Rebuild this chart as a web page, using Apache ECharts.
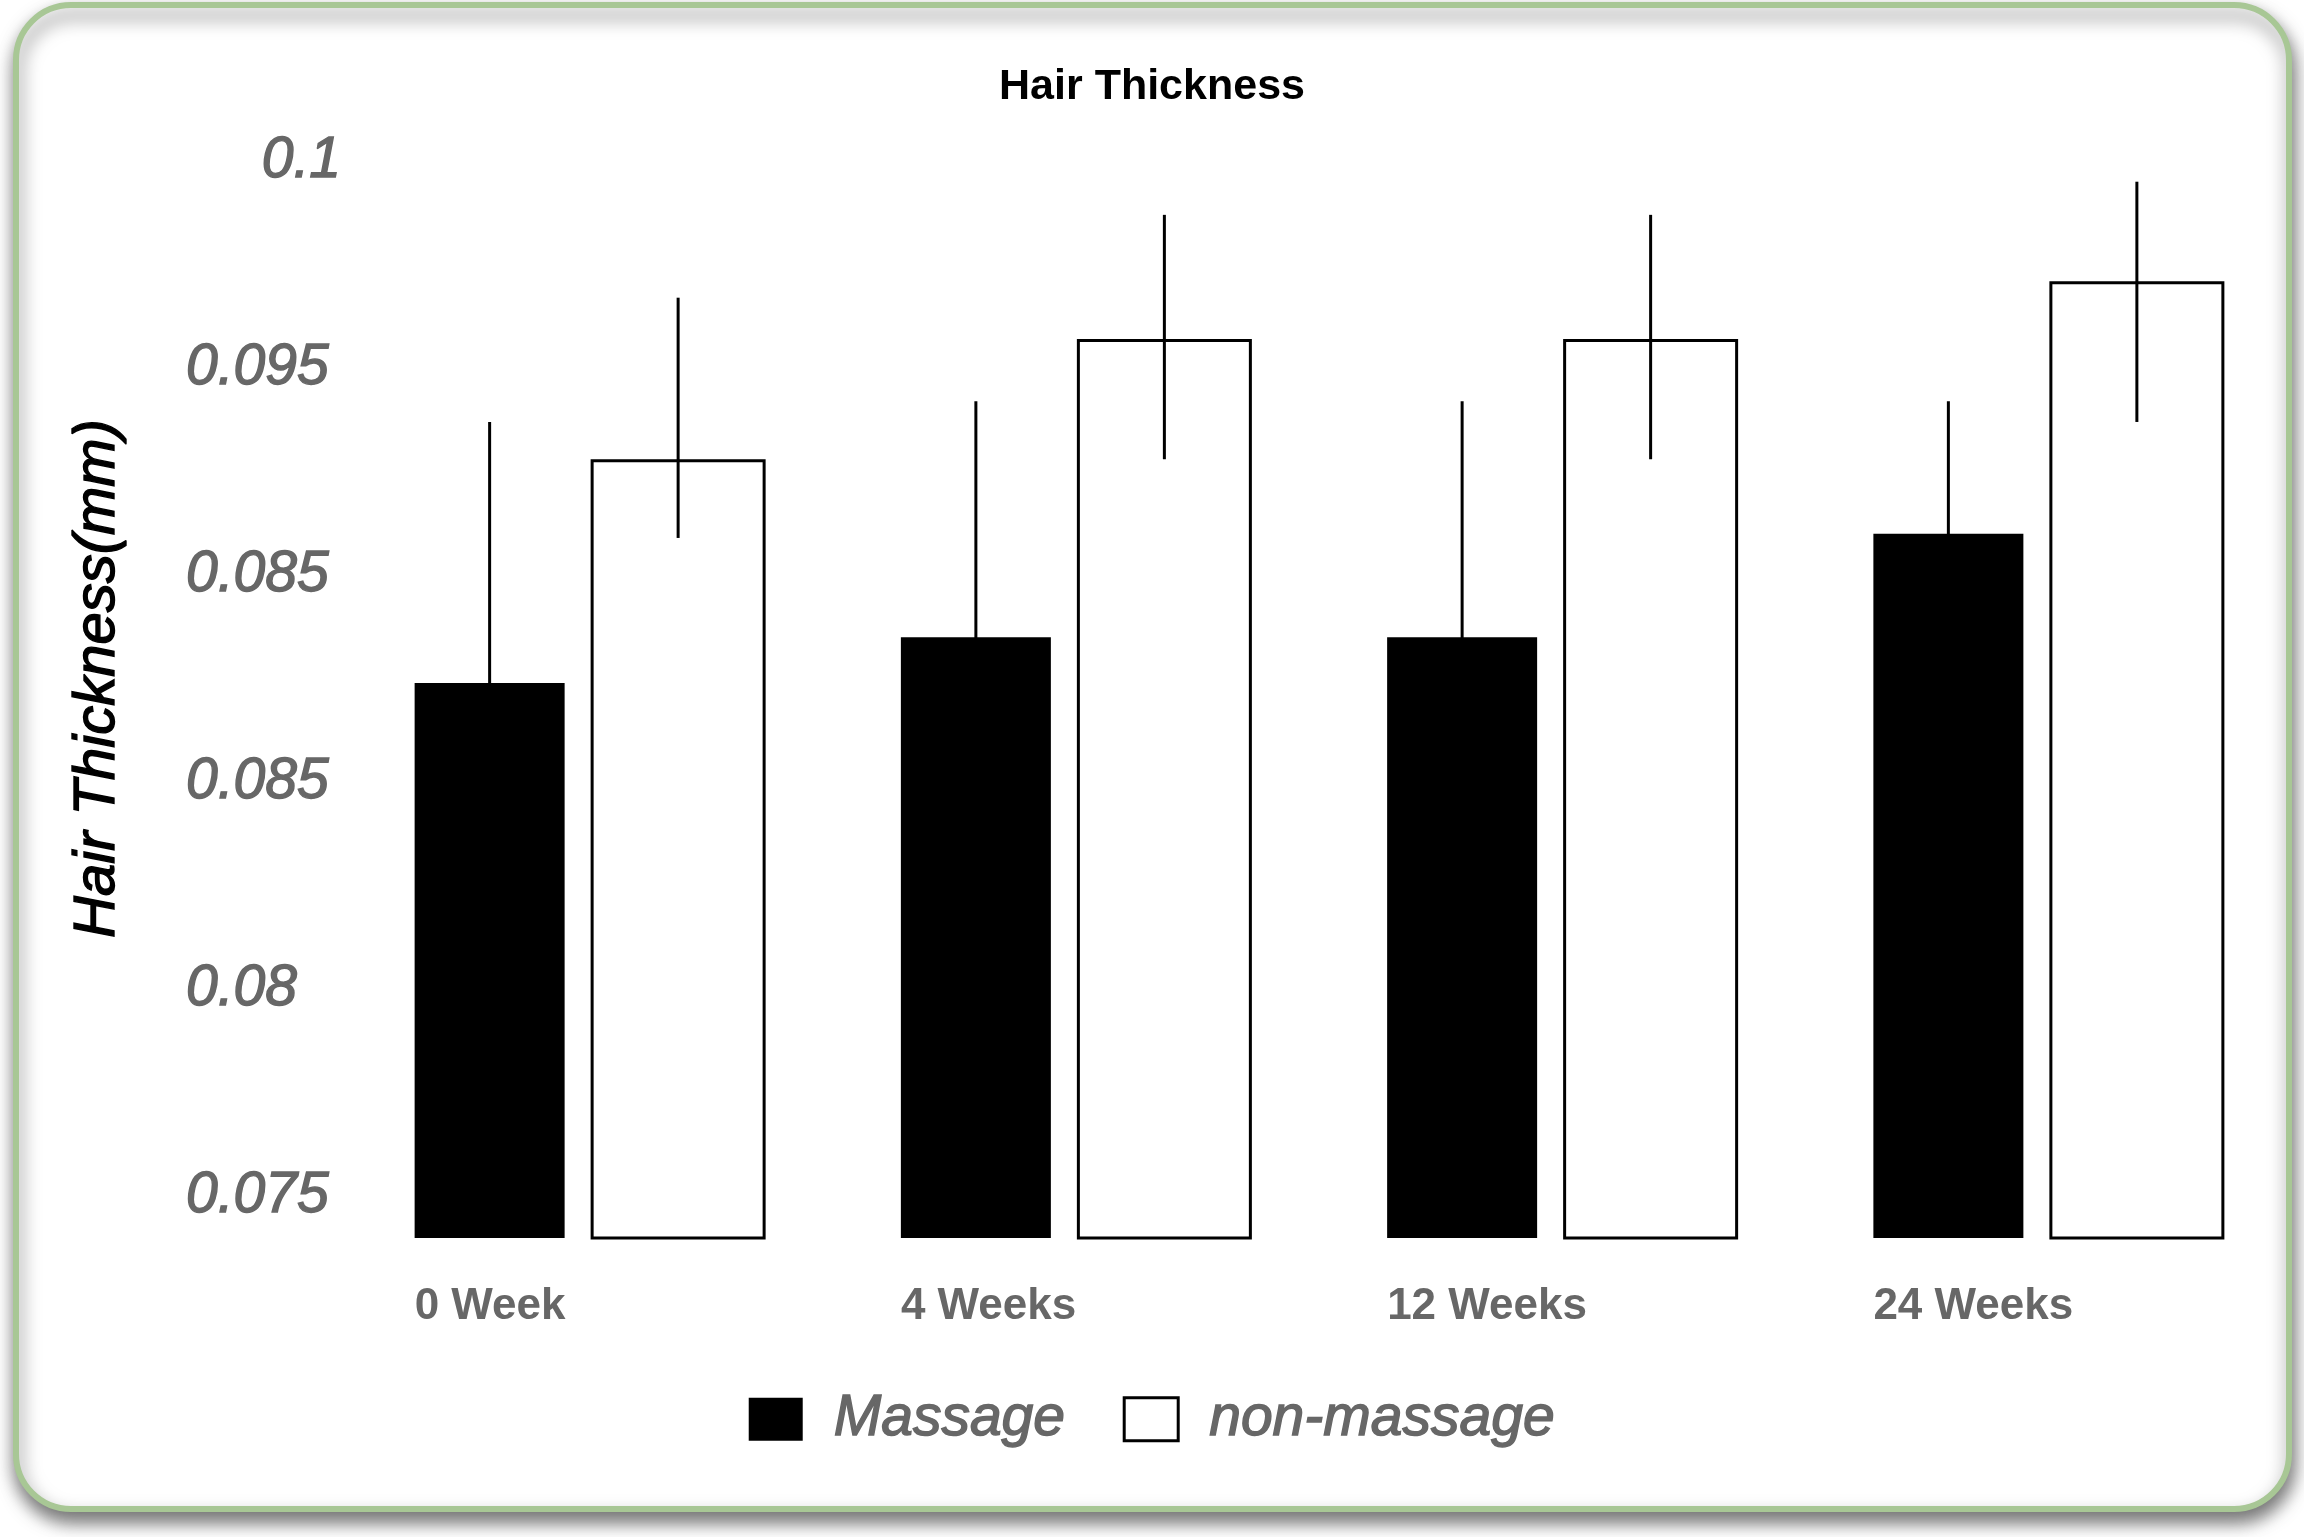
<!DOCTYPE html>
<html>
<head>
<meta charset="utf-8">
<title>Hair Thickness</title>
<script src="https://cdn.jsdelivr.net/npm/echarts@6.0.0/dist/echarts.min.js"></script>
<style>
    html,body{margin:0;padding:0;background:#fff;}
    #chart{width:2304px;height:1537px;}
</style>
</head>
<body>
<div id="chart"></div>
<script>
// values (mm)
const categories=['0 Week','4 Weeks','12 Weeks','24 Weeks'];
const massage=[0.0874,0.0885,0.0885,0.0910];
const massageHigh=[0.0937,0.0942,0.0942,0.0942];
const massageLow=[0.0811,0.0828,0.0828,0.0878];
const nonMassage=[0.0928,0.0957,0.0957,0.0971];
const nonMassageHigh=[0.0967,0.0987,0.0987,0.0995];
const nonMassageLow=[0.0909,0.0928,0.0928,0.0937];
// tick labels as printed on the original (0.085 really is there twice)
const yTickValues=[0.075,0.08,0.085,0.09,0.095,0.1];
const yTickLabels=['0.075','0.08','0.085','0.085','0.095','0.1'];

const FONT='Liberation Sans';
const GREY='#676767';
const massageWidth=150;
const nonWidth=175;
const gap=26;
const total=massageWidth+gap+nonWidth;
const massageOffset=-total/2+massageWidth/2;
const nonOffset=-total/2+massageWidth+gap+nonWidth/2;

// italic labels in the original are a bit heavier than a regular face
const greyText={fontFamily:FONT,fontSize:57,fontStyle:'italic',color:GREY,textBorderColor:GREY,textBorderWidth:1.4};

function errorBar(offset){
    return function(params,api){
        let low=api.coord([api.value(0),api.value(1)]);
        let high=api.coord([api.value(0),api.value(2)]);
        return {
            type:'line',
            shape:{x1:low[0]+offset,y1:low[1],x2:high[0]+offset,y2:high[1]},
            style:{stroke:'#000',lineWidth:3}
        };
    };
}

const chart=echarts.init(document.getElementById('chart'));
chart.setOption({
    animation:false,
    backgroundColor:'#fff',
    graphic:[{
        type:'rect',
        z:0,
        shape:{x:16,y:5,width:2273,height:1504,r:55},
        style:{
            fill:'#fff',
            stroke:'#a8c795',
            lineWidth:6,
            shadowBlur:18,
            shadowOffsetX:2,
            shadowOffsetY:10,
            shadowColor:'rgba(0,0,0,0.55)'
        }
    }],
    title:{
        text:'Hair Thickness',
        left:'center',
        top:66,
        padding:0,
        textStyle:{fontFamily:FONT,fontSize:43,fontWeight:'bold',color:'#000'}
    },
    legend:{
        data:[
            {name:'Massage',icon:'rect',itemStyle:{color:'#000',borderWidth:0}},
            {name:'non-massage',icon:'rect',itemStyle:{color:'#fff',borderColor:'#000',borderWidth:3}}
        ],
        left:'center',
        top:1390,
        padding:0,
        itemWidth:54,
        itemHeight:43,
        itemGap:57,
        textStyle:Object.assign({padding:[0,0,0,26]},greyText)
    },
    grid:{
        left:347,
        right:12,
        top:161,
        bottom:299,
        outerBoundsMode:'none'
    },
    xAxis:{
        type:'category',
        data:categories,
        axisLine:{show:false},
        axisTick:{show:false},
        axisLabel:{
            interval:0,
            margin:47,
            align:'center',
            formatter:function(v){
                return '{a|'+v+'}';
            },
            rich:{
                a:{
                    width:total,align:'left',
                    fontFamily:FONT,fontSize:44,fontWeight:'bold',color:GREY
                }
            }
        }
    },
    yAxis:{
        type:'value',
        min:0.074,
        max:0.1,
        interval:0.001,
        name:'Hair Thickness(mm)',
        nameLocation:'middle',
        nameRotate:90,
        nameGap:220,
        nameTextStyle:{
            fontFamily:FONT,fontSize:58,fontStyle:'italic',color:'#000',
            textBorderColor:'#000',textBorderWidth:1.4,
            padding:[0,0,0,42]
        },
        axisLine:{show:false},
        axisTick:{show:false},
        splitLine:{show:false},
        axisLabel:{
            margin:161,
            align:'left',
            formatter:function(v){
                let i=yTickValues.findIndex(function(t){return Math.abs(t-v)<1e-7;});
                if(i<0) return '';
                return (i===yTickValues.length-1?'{r|':'{l|')+yTickLabels[i]+'}';
            },
            rich:{
                l:Object.assign({},greyText),
                r:Object.assign({width:155,align:'right'},greyText)
            }
        }
    },
    series:[
        {
            name:'Massage',
            type:'bar',
            data:massage,
            barWidth:massageWidth,
            barGap:(gap/massageWidth*100)+'%',
            itemStyle:{color:'#000'}
        },
        {
            name:'non-massage',
            type:'bar',
            data:nonMassage,
            barWidth:nonWidth,
            barGap:(gap/massageWidth*100)+'%',
            itemStyle:{color:'#fff',borderColor:'#000',borderWidth:3}
        },
        {
            name:'Massage SD',
            type:'custom',
            z:5,
            renderItem:errorBar(massageOffset),
            encode:{x:0,y:[1,2]},
            data:categories.map(function(c,i){return [i,massageLow[i],massageHigh[i]];})
        },
        {
            name:'non-massage SD',
            type:'custom',
            z:5,
            renderItem:errorBar(nonOffset),
            encode:{x:0,y:[1,2]},
            data:categories.map(function(c,i){return [i,nonMassageLow[i],nonMassageHigh[i]];})
        }
    ]
});
</script>
</body>
</html>
